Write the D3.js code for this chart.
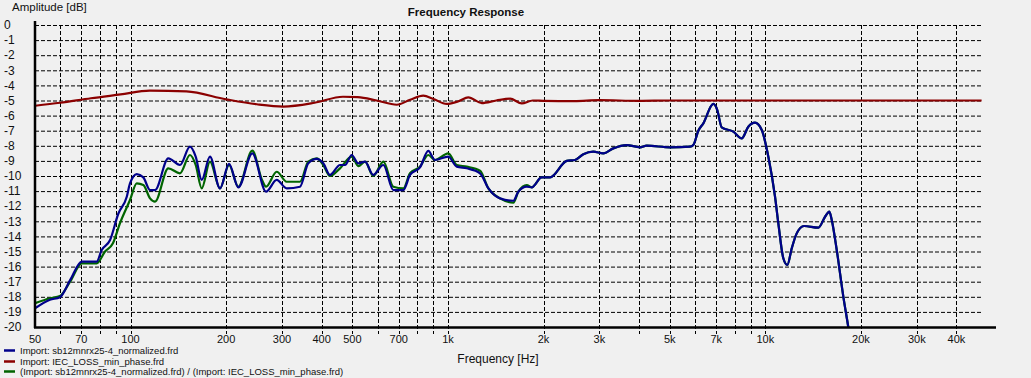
<!DOCTYPE html>
<html>
<head>
<meta charset="utf-8">
<script src="https://cdn.jsdelivr.net/npm/d3@7"></script>
<style>
  html, body { margin: 0; padding: 0; background: #f0f0f0; }
  svg { display: block; }
  text { font-family: "Liberation Sans", Arial, sans-serif; fill: #111; }
</style>
</head>
<body>
<svg id="chart" width="1031" height="378"></svg>
<script>
// ---------- data ----------
const xTickValues = [50, 70, 100, 200, 300, 400, 500, 700, 1000, 2000, 3000, 5000, 7000, 10000, 20000, 30000, 40000];
const xGridValues = [60, 70, 80, 90, 100, 200, 300, 400, 500, 600, 700, 800, 900, 1000, 2000, 3000, 4000, 5000, 6000, 7000, 8000, 9000, 10000, 20000, 30000, 40000];
const yTickValues = [0, -1, -2, -3, -4, -5, -6, -7, -8, -9, -10, -11, -12, -13, -14, -15, -16, -17, -18, -19, -20];

const seriesNames = [
  "Import: sb12mnrx25-4_normalized.frd",
  "Import: IEC_LOSS_min_phase.frd",
  "(Import: sb12mnrx25-4_normalized.frd) / (Import: IEC_LOSS_min_phase.frd)"
];
const seriesColors = ["#00008B", "#8B0000", "#006400"];

// blue: driver response [freq Hz, dB]
const blueFreq = [50, 55.7, 59.9, 64.5, 70.2, 78.2, 81.1, 86.2, 91.5, 97.3, 99.6, 104.6, 109.7, 115.2, 119.4, 131.5, 143.1, 153.9, 160.4, 167.6, 177.9, 191.3, 204.3, 218.5, 241.9, 267.2, 288.7, 310.4, 341.9, 363.1, 385.9, 404.8, 424.9, 457.1, 474, 497.5, 521.9, 547.9, 581.8, 625.7, 672.8, 723.4, 759.4, 816.5, 867, 910, 1002, 1066, 1146, 1262, 1341, 1459, 1607, 1666, 1771, 1836, 1974, 2097, 2367, 2513, 2670, 2870, 3086, 3318, 3657, 4027, 4228, 5007, 5789, 5929, 6150, 6377, 6855, 7055, 7285, 7924, 8424, 8836, 9276, 9741, 10218, 10726, 10986, 11391, 11726, 12108, 12554, 13235, 14689, 15419, 15907, 16186, 16782, 17604, 18254, 19000, 20000];
const blueDb = [-18.77, -18.2, -18.03, -16.9, -15.67, -15.67, -14.9, -14.24, -12.5, -11.37, -10.49, -9.87, -10.09, -10.93, -10.93, -8.83, -9.27, -8.06, -8.72, -10.26, -8.72, -10.82, -9.2, -10.75, -8.5, -11.04, -10.26, -10.82, -10.71, -9.16, -8.87, -9.16, -9.93, -9.27, -9.27, -8.61, -9.16, -9.05, -9.93, -9.27, -10.93, -10.93, -9.93, -9.43, -8.34, -8.94, -8.72, -9.38, -9.49, -9.82, -10.82, -11.48, -11.64, -11.04, -10.71, -10.75, -10.09, -10.09, -9.0, -8.94, -8.56, -8.39, -8.5, -8.17, -7.95, -8.1, -7.99, -8.1, -8.06, -7.95, -7.0, -6.51, -5.23, -5.63, -6.78, -7.06, -7.51, -6.74, -6.47, -6.95, -8.72, -11.37, -13.13, -15.45, -15.89, -14.79, -13.8, -13.31, -13.42, -12.7, -12.36, -12.91, -14.9, -17.99, -20.02, -22.5, -25.5];

// green: driver / IEC loss [freq Hz, dB]
const greenFreq = [50, 55.7, 59.9, 64.5, 70.2, 78.2, 83.1, 88.0, 92.6, 99.6, 104.6, 109.7, 115.2, 119.4, 131.5, 143.1, 153.9, 160.4, 167.6, 177.9, 191.3, 204.3, 218.5, 241.9, 259.5, 267.2, 288.7, 310.4, 341.9, 363.1, 385.9, 404.8, 424.9, 457.1, 497.5, 521.9, 547.9, 581.8, 625.7, 672.8, 723.4, 759.4, 816.5, 867, 910, 1002, 1066, 1146, 1262, 1341, 1459, 1607, 1666, 1771, 1836, 1974, 2097, 2367, 2513, 2670, 2870, 3086, 3318, 3657, 4027, 4228, 5007, 5789, 5929, 6150, 6377, 6855, 7055, 7285, 7924, 8424, 8836, 9276, 9741, 10218, 10726, 10986, 11391, 11726, 12108, 12554, 13235, 14689, 15419, 15907, 16186, 16782, 17604, 18254, 19000, 20000];
const greenDb = [-18.43, -18.1, -17.95, -17.0, -15.78, -15.78, -15.0, -14.46, -13.13, -11.59, -10.49, -10.6, -11.48, -11.7, -9.49, -9.82, -8.61, -9.27, -10.82, -9.05, -10.82, -9.27, -10.71, -8.32, -10.26, -10.71, -9.72, -10.38, -10.38, -9.05, -8.83, -9.27, -10.0, -9.49, -8.72, -9.34, -9.05, -10.0, -9.05, -10.71, -10.82, -9.82, -9.38, -8.61, -8.94, -8.5, -9.27, -9.38, -9.65, -10.82, -11.48, -11.77, -11.04, -10.6, -10.75, -10.09, -10.09, -9.0, -8.94, -8.56, -8.39, -8.5, -8.17, -7.95, -8.1, -7.99, -8.1, -8.06, -7.95, -7.0, -6.51, -5.23, -5.63, -6.78, -7.06, -7.51, -6.74, -6.47, -6.95, -8.72, -11.37, -13.13, -15.45, -15.89, -14.79, -13.8, -13.31, -13.42, -12.7, -12.36, -12.91, -14.9, -17.99, -20.02, -22.5, -25.5];

// red: IEC loss [freq Hz, dB]
const redFreq = [50, 60, 75, 93, 115, 150, 200, 250, 303, 380, 467, 520, 596, 690, 760, 836, 900, 991, 1080, 1159, 1278, 1420, 1569, 1708, 1850, 2000, 2500, 3000, 4000, 5000, 10000, 48000];
const redDb = [-5.35, -5.15, -4.85, -4.6, -4.35, -4.4, -4.92, -5.25, -5.4, -5.15, -4.75, -4.78, -5.0, -5.28, -4.95, -4.68, -4.9, -5.23, -5.05, -4.79, -5.17, -5.0, -4.88, -5.19, -5.0, -5.02, -5.04, -4.98, -5.02, -5.0, -5.0, -5.0];

const xDomain = [50, 52900];
const gridEndFreq = 48000;
const yDomain = [-20, 0];

// ---------- drawing ----------
const svg = d3.select("#chart");
const x = d3.scaleLog().domain(xDomain).range([35, 995]);
const y = d3.scaleLinear().domain(yDomain).range([327, 25]);

const fmtHz = f => f >= 1000 ? (f / 1000) + "k" : String(f);

// title and axis titles
svg.append("text").attr("x", 466).attr("y", 16).attr("text-anchor", "middle")
  .attr("font-size", 11.5).attr("font-weight", "bold").text("Frequency Response");
svg.append("text").attr("x", 12).attr("y", 11).attr("font-size", 11.5).attr("fill", "#1a1a2a").text("Amplitude [dB]");
svg.append("text").attr("x", 498).attr("y", 363).attr("text-anchor", "middle").attr("font-size", 12).text("Frequency [Hz]");

// horizontal grid
svg.append("g").selectAll("line").data(yTickValues.filter(v => v > yDomain[0])).join("line")
  .attr("x1", x(xDomain[0])).attr("x2", x(gridEndFreq))
  .attr("y1", d => y(d) + 0.5).attr("y2", d => y(d) + 0.5)
  .attr("stroke", "#000").attr("stroke-width", 1).attr("stroke-dasharray", "4,2");

// vertical grid + ticks below axis
svg.append("g").selectAll("line").data(xGridValues).join("line")
  .attr("x1", d => Math.round(x(d)) + 0.5).attr("x2", d => Math.round(x(d)) + 0.5)
  .attr("y1", y(0)).attr("y2", y(-20) + 7)
  .attr("stroke", "#000").attr("stroke-width", 1).attr("stroke-dasharray", "4,2");

// y tick labels
svg.append("g").selectAll("text").data(yTickValues).join("text")
  .attr("x", 4).attr("y", d => y(d)).attr("dy", "0.35em")
  .attr("font-size", 12).text(d => String(d));

// x tick labels
svg.append("g").selectAll("text").data(xTickValues).join("text")
  .attr("x", d => x(d)).attr("y", 343).attr("text-anchor", "middle")
  .attr("font-size", 11).text(fmtHz);

// curves
svg.append("clipPath").attr("id", "plotclip").append("rect")
  .attr("x", 35).attr("y", 20).attr("width", 960).attr("height", 307);

const line = d3.line().x(d => x(d[0])).y(d => y(d[1])).curve(d3.curveMonotoneX);
const zip = (a, b) => a.map((v, i) => [v, b[i]]);
const gCurves = svg.append("g").attr("clip-path", "url(#plotclip)");
gCurves.append("path").datum(zip(greenFreq, greenDb)).attr("d", line)
  .attr("fill", "none").attr("stroke", seriesColors[2]).attr("stroke-width", 2.2);
gCurves.append("path").datum(zip(blueFreq, blueDb)).attr("d", line)
  .attr("fill", "none").attr("stroke", seriesColors[0]).attr("stroke-width", 2.2);
gCurves.append("path").datum(zip(redFreq, redDb)).attr("d", line)
  .attr("fill", "none").attr("stroke", seriesColors[1]).attr("stroke-width", 2.2);

// axes lines
svg.append("line").attr("x1", 35).attr("x2", 35).attr("y1", 21).attr("y2", 328)
  .attr("stroke", "#000").attr("stroke-width", 2.5);
svg.append("line").attr("x1", 34).attr("x2", 996).attr("y1", 327.5).attr("y2", 327.5)
  .attr("stroke", "#000").attr("stroke-width", 2.5);

// legend
const legY = [350.5, 361.5, 371.5];
const leg = svg.append("g").selectAll("g").data(seriesNames).join("g");
leg.append("line").attr("x1", 4).attr("x2", 15)
  .attr("y1", (d, i) => legY[i]).attr("y2", (d, i) => legY[i])
  .attr("stroke", (d, i) => seriesColors[i]).attr("stroke-width", 2.5);
leg.append("text").attr("x", 20).attr("y", (d, i) => legY[i]).attr("dy", "0.33em")
  .attr("font-size", 9.5).text(d => d);
</script>
</body>
</html>
